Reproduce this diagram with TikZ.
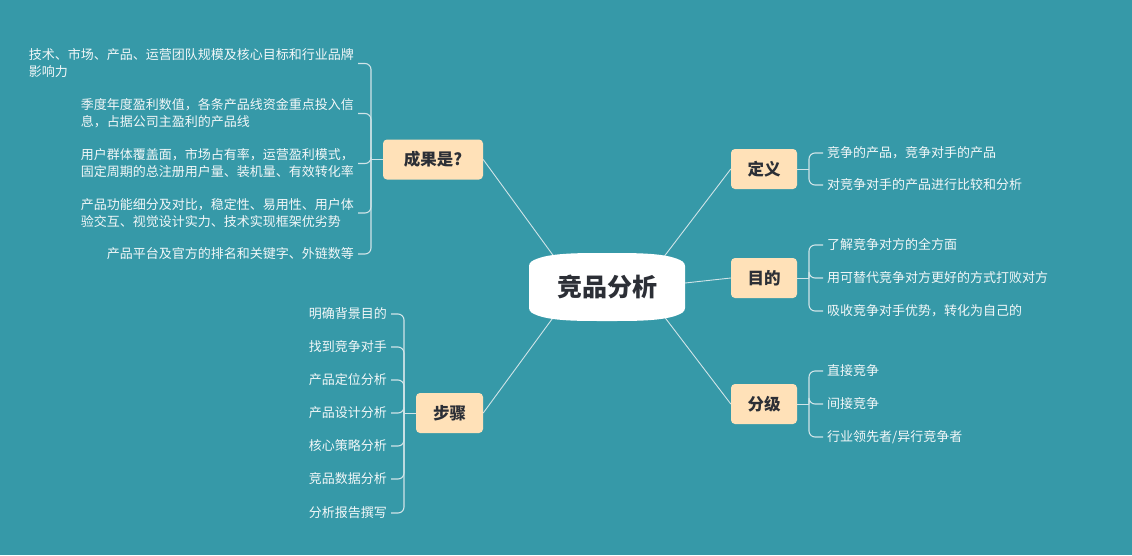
\documentclass[tikz,border=0pt]{standalone}
\usepackage{fontspec}
\setmainfont{Noto Sans CJK SC}
\definecolor{bg}{RGB}{54,153,168}
\definecolor{peach}{RGB}{255,225,184}
\definecolor{ink}{RGB}{44,47,54}
\definecolor{ln}{RGB}{208,228,232}
\definecolor{leaftext}{RGB}{242,247,248}
\tikzset{
  topic/.style={fill=peach, rounded corners=4pt, minimum height=40pt, text=ink,
    font=\fontsize{16.5}{20}\selectfont\bfseries, inner sep=0pt},
  leaf/.style={text=leaftext, font=\fontsize{13}{17}\selectfont, inner xsep=4pt, inner ysep=0pt},
  conn/.style={draw=ln, line width=0.9pt},
  brk/.style={draw=ln, line width=1.1pt, rounded corners=6pt},
}
\begin{document}
\begin{tikzpicture}[x=1pt,y=-1pt]
\useasboundingbox (0,0) rectangle (1132,555);
\fill[bg] (0,0) rectangle (1132,555);

% main topic nodes
\node[topic, minimum width=100pt] (cg) at (433,159.5) {成果是?};
\node[topic, minimum width=67pt] (bz) at (449.5,413) {步骤};
\node[topic, minimum width=66pt] (dy) at (764,169) {定义};
\node[topic, minimum width=66pt] (md) at (764,278) {目的};
\node[topic, minimum width=66pt] (fj) at (764,404) {分级};

% connector start points on the central shape
\coordinate (c1) at (555,258);
\coordinate (c2) at (663,258);
\coordinate (c3) at (685,283);
\coordinate (c4) at (555,315);
\coordinate (c5) at (663,315);
\draw[conn] (c1) -- (cg.east);
\draw[conn] (c2) -- (dy.west);
\draw[conn] (c3) -- (md.west);
\draw[conn] (c4) -- (bz.east);
\draw[conn] (c5) -- (fj.west);

% central shape
\fill[white, rounded corners=3pt] (529,263) .. controls (545,253) and (575,253) .. (607,253)
  .. controls (639,253) and (669,253) .. (685,263) -- (685,311)
  .. controls (669,321) and (639,321) .. (607,321)
  .. controls (575,321) and (545,321) .. (529,311) -- cycle;
\node[inner sep=0pt, text=ink, font=\fontsize{25}{30}\selectfont\bfseries] (c) at (607,286.5) {竞品分析};

% junctions
\coordinate (jcg) at (371,159.5);
\coordinate (jbz) at (404,413);
\coordinate (jdy) at (809,169);
\coordinate (jmd) at (809,278);
\coordinate (jfj) at (809,404);

% 成果是? leaves
\node[leaf, anchor=east, align=left] (cg1) at (358,63.5) {技术、市场、产品、运营团队规模及核心目标和行业品牌\\影响力};
\node[leaf, anchor=east, align=left] (cg2) at (358,113.5) {季度年度盈利数值，各条产品线资金重点投入信\\息，占据公司主盈利的产品线};
\node[leaf, anchor=east, align=left] (cg3) at (358,163.5) {用户群体覆盖面，市场占有率，运营盈利模式，\\固定周期的总注册用户量、装机量、有效转化率};
\node[leaf, anchor=east, align=left] (cg4) at (358,213) {产品功能细分及对比，稳定性、易用性、用户体\\验交互、视觉设计实力、技术实现框架优劣势};
\node[leaf, anchor=east] (cg5) at (358,254) {产品平台及官方的排名和关键字、外链数等};
\draw[conn] (cg.west) -- (jcg);
\foreach \n in {cg1,cg2,cg3,cg4,cg5} \draw[brk] (jcg) |- (\n.east);

% 步骤 leaves
\node[leaf, anchor=east] (bz1) at (391,314) {明确背景目的};
\node[leaf, anchor=east] (bz2) at (391,347) {找到竞争对手};
\node[leaf, anchor=east] (bz3) at (391,380) {产品定位分析};
\node[leaf, anchor=east] (bz4) at (391,413) {产品设计分析};
\node[leaf, anchor=east] (bz5) at (391,446) {核心策略分析};
\node[leaf, anchor=east] (bz6) at (391,479) {竞品数据分析};
\node[leaf, anchor=east] (bz7) at (391,513) {分析报告撰写};
\draw[conn] (bz.west) -- (jbz);
\foreach \n in {bz1,bz2,bz3,bz4,bz5,bz6,bz7} \draw[brk] (jbz) |- (\n.east);

% 定义 leaves
\node[leaf, anchor=west] (dy1) at (823,153) {竞争的产品，竞争对手的产品};
\node[leaf, anchor=west] (dy2) at (823,185) {对竞争对手的产品进行比较和分析};
\draw[conn] (dy.east) -- (jdy);
\foreach \n in {dy1,dy2} \draw[brk] (jdy) |- (\n.west);

% 目的 leaves
\node[leaf, anchor=west] (md1) at (823,245) {了解竞争对方的全方面};
\node[leaf, anchor=west] (md2) at (823,278) {用可替代竞争对方更好的方式打败对方};
\node[leaf, anchor=west] (md3) at (823,311) {吸收竞争对手优势，转化为自己的};
\draw[conn] (md.east) -- (jmd);
\foreach \n in {md1,md2,md3} \draw[brk] (jmd) |- (\n.west);

% 分级 leaves
\node[leaf, anchor=west] (fj1) at (823,371) {直接竞争};
\node[leaf, anchor=west] (fj2) at (823,404) {间接竞争};
\node[leaf, anchor=west] (fj3) at (823,437) {行业领先者/异行竞争者};
\draw[conn] (fj.east) -- (jfj);
\foreach \n in {fj1,fj2,fj3} \draw[brk] (jfj) |- (\n.west);
\end{tikzpicture}
\end{document}
